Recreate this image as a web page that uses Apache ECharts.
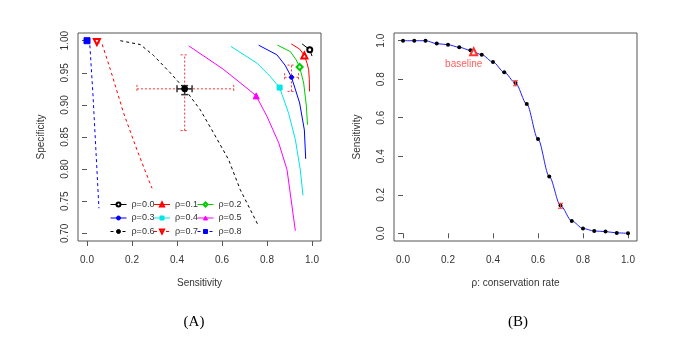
<!DOCTYPE html>
<html>
<head>
<meta charset="utf-8">
<script src="https://cdn.jsdelivr.net/npm/echarts@6/dist/echarts.min.js"></script>
<style>
html, body { margin: 0; padding: 0; background: #fff; }
#chart { width: 685px; height: 347px; }
</style>
</head>
<body>
<div id="chart"></div>
<script>
// ---- panel A: sensitivity vs specificity, one curve per rho ----
const rhoNames = ['ρ=0.0', 'ρ=0.1', 'ρ=0.2', 'ρ=0.3', 'ρ=0.4', 'ρ=0.5', 'ρ=0.6', 'ρ=0.7', 'ρ=0.8'];

// [sensitivity, specificity]
const curve00 = [[0.956, 0.995], [0.99, 0.986], [1.0, 0.976]];
const curve01 = [[0.908, 0.995], [0.945, 0.987], [0.966, 0.977], [0.978, 0.965], [0.985, 0.955], [0.988, 0.94], [0.989, 0.921]];
const curve02 = [[0.847, 0.993], [0.904, 0.983], [0.930, 0.970], [0.945, 0.959], [0.963, 0.934], [0.975, 0.898], [0.980, 0.869]];
const curve03 = [[0.763, 0.993], [0.844, 0.978], [0.880, 0.962], [0.909, 0.943], [0.945, 0.903], [0.966, 0.861], [0.972, 0.816]];
const curve04 = [[0.64, 0.991], [0.756, 0.965], [0.815, 0.944], [0.856, 0.927], [0.896, 0.887], [0.926, 0.846], [0.948, 0.799], [0.960, 0.759]];
const curve05 = [[0.452, 0.992], [0.604, 0.956], [0.711, 0.926], [0.752, 0.914], [0.80, 0.882], [0.852, 0.841], [0.889, 0.799], [0.926, 0.704]];
const curve06 = [[0.148, 1.0], [0.237, 0.994], [0.296, 0.977], [0.370, 0.950], [0.434, 0.925], [0.504, 0.892], [0.563, 0.856], [0.629, 0.815], [0.681, 0.768], [0.763, 0.711]];
const curve07 = [[0.044, 0.998], [0.067, 0.995], [0.104, 0.955], [0.163, 0.887], [0.222, 0.830], [0.289, 0.770]];
const curve08 = [[0.0, 1.0], [0.012, 0.997], [0.027, 0.913], [0.041, 0.820], [0.053, 0.739]];
const curves = [curve00, curve01, curve02, curve03, curve04, curve05, curve06, curve07, curve08];

// the one marked point on each curve
const markerSens = [0.99, 0.966, 0.945, 0.909, 0.856, 0.752, 0.434, 0.044, 0.0];
const markerSpec = [0.986, 0.977, 0.959, 0.943, 0.927, 0.914, 0.925, 0.998, 1.0];

// error bars: [sens, spec, sensLo, sensHi, specLo, specHi]
const errRedA = [[0.909, 0.943, 0.878, 0.940, 0.921, 0.962], [0.434, 0.925, 0.222, 0.652, 0.860, 0.978]];
const errBlackA = [[0.434, 0.925, 0.40, 0.467, 0.916, 0.930]];

// ---- panel B: sensitivity vs conservation rate ----
const rate = [0, 0.05, 0.1, 0.15, 0.2, 0.25, 0.3, 0.35, 0.4, 0.45, 0.5, 0.55, 0.6, 0.65, 0.7, 0.75, 0.8, 0.85, 0.9, 0.95, 1.0];
const sensB = [1.0, 1.0, 1.0, 0.985, 0.979, 0.966, 0.950, 0.927, 0.889, 0.836, 0.780, 0.671, 0.489, 0.295, 0.144, 0.064, 0.025, 0.012, 0.009, 0.002, 0.0];
const baseline = [0.314, 0.943];
const baselineText = [0.27, 0.88];
const errB = [[0.5, 0.78, 0.5, 0.5, 0.766, 0.792], [0.7, 0.143, 0.7, 0.7, 0.13, 0.156]];

const ticks01 = [0, 0.2, 0.4, 0.6, 0.8, 1.0];
const ticksSpec = [0.70, 0.75, 0.80, 0.85, 0.90, 0.95, 1.00];

const FONT = 'Liberation Sans';
const colors = ['#000000', '#ff0000', '#00cd00', '#0000ff', '#00e5e5', '#ff00ff', '#000000', '#ff0000', '#0000ff'];
const symbols = ['emptyCircle', 'emptyTriangle', 'emptyDiamond', 'circle', 'rect', 'triangle', 'circle', 'emptyTriangle', 'rect'];
const symSizes = [5, 6, 6, 4, 5, 6, 6, 6, 6];
const symRot = [0, 0, 0, 0, 0, 0, 0, 180, 0];
const dashed = [false, false, false, false, false, false, true, true, true];

function errorBar(color, dash, width, cap) {
    return function (params, api) {
        const x = api.value(0), y = api.value(1);
        const l = api.coord([api.value(2), y]), r = api.coord([api.value(3), y]);
        const b = api.coord([x, api.value(4)]), t = api.coord([x, api.value(5)]);
        const kids = [];
        const seg = (x1, y1, x2, y2) => kids.push({
            type: 'line', shape: { x1, y1, x2, y2 },
            style: { stroke: color, lineWidth: width, lineDash: dash, fill: null }
        });
        if (r[0] - l[0] > 1) {
            seg(l[0], l[1], r[0], r[1]);
            seg(l[0], l[1] - cap, l[0], l[1] + cap);
            seg(r[0], r[1] - cap, r[0], r[1] + cap);
        }
        if (b[1] - t[1] > 1) {
            seg(b[0], b[1], t[0], t[1]);
            seg(b[0] - cap, b[1], b[0] + cap, b[1]);
            seg(t[0] - cap, t[1], t[0] + cap, t[1]);
        }
        return { type: 'group', children: kids };
    };
}

function xAxisOf(grid, name) {
    return {
        type: 'value', gridIndex: grid, min: -0.04, max: 1.04,
        axisLine: { show: false }, splitLine: { show: false },
        axisTick: { show: true, length: 5, lineStyle: { color: '#555' }, customValues: ticks01 },
        axisLabel: { customValues: ticks01, formatter: v => v.toFixed(1), margin: 14, fontSize: 10, color: '#333', fontFamily: FONT },
        name: name, nameLocation: 'middle', nameGap: 37,
        nameTextStyle: { fontSize: 10, color: '#333', fontFamily: FONT }
    };
}

function yAxisOf(grid, name, min, max, ticks, digits) {
    return {
        type: 'value', gridIndex: grid, min: min, max: max,
        axisLine: { show: false }, splitLine: { show: false },
        axisTick: { show: true, length: 5, lineStyle: { color: '#555' }, customValues: ticks },
        axisLabel: { customValues: ticks, formatter: v => v.toFixed(digits), rotate: 90, margin: 8, fontSize: 10, color: '#333', fontFamily: FONT },
        name: name, nameLocation: 'middle', nameGap: 32,
        nameTextStyle: { fontSize: 10, color: '#333', fontFamily: FONT }
    };
}

const seriesA = curves.map((c, i) => {
    const pts = c.map(p => ({ value: p, symbol: 'none' }));
    const hasMarker = c.some(p => p[0] === markerSens[i] && p[1] === markerSpec[i]);
    if (hasMarker) {
        pts.forEach(p => { if (p.value[0] === markerSens[i] && p.value[1] === markerSpec[i]) delete p.symbol; });
    } else {
        pts.push({ value: [markerSens[i], markerSpec[i]] });
    }
    pts.sort((a, b) => a.value[0] - b.value[0]);
    return {
        name: rhoNames[i], type: 'line', xAxisIndex: 0, yAxisIndex: 0,
        data: pts, symbol: symbols[i], symbolSize: symSizes[i], symbolRotate: symRot[i],
        color: colors[i],
        itemStyle: { color: colors[i], borderColor: colors[i], borderWidth: 1 },
        lineStyle: { color: colors[i], width: 1, type: dashed[i] ? [3, 3] : 'solid' },
        emphasis: { disabled: true }, z: 3
    };
});

const option = {
    animation: false,
    backgroundColor: '#fff',
    grid: [
        { left: 78, top: 33, width: 243, height: 208, show: true, borderColor: '#555', borderWidth: 1, outerBoundsMode: 'none' },
        { left: 394, top: 33, width: 243, height: 208, show: true, borderColor: '#555', borderWidth: 1, outerBoundsMode: 'none' }
    ],
    xAxis: [xAxisOf(0, 'Sensitivity'), xAxisOf(1, 'ρ: conservation rate')],
    yAxis: [
        yAxisOf(0, 'Specificity', 0.688, 1.012, ticksSpec, 2),
        yAxisOf(1, 'Sensitivity', -0.04, 1.04, ticks01, 1)
    ],
    legend: [0, 1, 2].map(c => ({
        orient: 'vertical', left: [110, 153.5, 197][c], top: 199.5, padding: 0,
        itemWidth: 16, itemHeight: 5, itemGap: 3.5, selectedMode: false,
        data: [rhoNames[c], rhoNames[c + 3], rhoNames[c + 6]],
        lineStyle: { width: 1 },
        itemStyle: { borderWidth: 1 },
        textStyle: { fontSize: 9, color: '#333', fontFamily: FONT, lineHeight: 10 }
    })),
    graphic: [
        { type: 'text', x: 194, y: 322, style: { text: '(A)', font: '15px "Liberation Serif"', align: 'center', verticalAlign: 'middle', fill: '#000' } },
        { type: 'text', x: 518, y: 322, style: { text: '(B)', font: '15px "Liberation Serif"', align: 'center', verticalAlign: 'middle', fill: '#000' } }
    ],
    series: [
        {
            type: 'custom', name: 'errRedA', xAxisIndex: 0, yAxisIndex: 0, data: errRedA,
            encode: { x: [0, 2, 3], y: [1, 4, 5] }, renderItem: errorBar('#ff3333', [2, 2], 1, 4), silent: true, z: 1
        },
        {
            type: 'custom', name: 'errBlackA', xAxisIndex: 0, yAxisIndex: 0, data: errBlackA,
            encode: { x: [0, 2, 3], y: [1, 4, 5] }, renderItem: errorBar('#333', null, 1.5, 3.5), silent: true, z: 1
        },
        ...seriesA,
        {
            type: 'line', name: 'rateCurve', xAxisIndex: 1, yAxisIndex: 1,
            data: rate.map((r, i) => [r, sensB[i]]),
            smooth: 0.3, smoothMonotone: 'x',
            symbol: 'circle', symbolSize: 4,
            itemStyle: { color: '#000' }, lineStyle: { color: '#2020ff', width: 1 },
            emphasis: { disabled: true }, z: 2
        },
        {
            type: 'custom', name: 'errB', xAxisIndex: 1, yAxisIndex: 1, data: errB,
            encode: { x: [0, 2, 3], y: [1, 4, 5] }, renderItem: errorBar('#ff3333', null, 1, 2.5), silent: true, z: 4
        },
        {
            type: 'line', name: 'baseline', xAxisIndex: 1, yAxisIndex: 1, data: [baseline],
            symbol: 'emptyTriangle', symbolSize: 7,
            itemStyle: { color: '#ff3333', borderColor: '#ff3333' }, lineStyle: { width: 0 },
            emphasis: { disabled: true }, z: 4
        },
        {
            type: 'scatter', name: 'baselineText', xAxisIndex: 1, yAxisIndex: 1, data: [baselineText],
            symbolSize: 1, itemStyle: { color: 'rgba(0,0,0,0)' },
            label: { show: true, position: 'inside', formatter: 'baseline', fontSize: 10, color: '#ff3333', fontFamily: FONT },
            silent: true, z: 4
        }
    ]
};

const chart = echarts.init(document.getElementById('chart'));
chart.setOption(option);
</script>
</body>
</html>
